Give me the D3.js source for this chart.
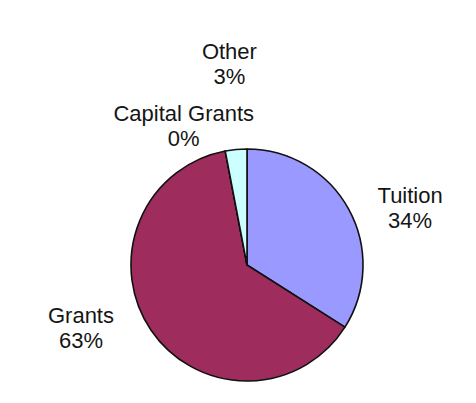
<!DOCTYPE html>
<html>
<head>
<meta charset="utf-8">
<script src="https://cdn.jsdelivr.net/npm/d3@7"></script>
<style>
  html, body { margin: 0; padding: 0; background: #fff; }
  svg { display: block; }
</style>
</head>
<body>
<div id="chart"></div>
<script>
// data
const categories = ['Tuition', 'Grants', 'Capital Grants', 'Other']
const shares = [34, 63, 0, 3]
const colors = ['#9999FF', '#9E2D5D', '#FFFFCC', '#CCFFFF']

const width = 476
const height = 403
const cx = 247
const cy = 265
const radius = 116

const data = categories.map((name, i) => ({ name, value: shares[i] }))

const svg = d3.select('#chart')
  .append('svg')
  .attr('width', width)
  .attr('height', height)

const g = svg.append('g')
  .attr('transform', `translate(${cx},${cy})`)

const pie = d3.pie()
  .sort(null)
  .value(d => d.value)

const arc = d3.arc()
  .innerRadius(0)
  .outerRadius(radius)

const color = d3.scaleOrdinal()
  .domain(categories)
  .range(colors)

const arcs = pie(data)

g.selectAll('path')
  .data(arcs)
  .enter().append('path')
    .attr('d', arc)
    .attr('fill', d => color(d.data.name))
    .attr('stroke', '#111')
    .attr('stroke-width', 1.6)
    .attr('stroke-linejoin', 'round')

// label placement (angle in degrees clockwise from 12 o'clock, distance as multiple of radius)
const labelPlace = {
  'Tuition': [70.7, 1.49],
  'Grants': [249.3, 1.53],
  'Capital Grants': [335.6, 1.32],
  'Other': [355, 1.74]
}

const total = d3.sum(shares)
const pct = d3.format('.0%')

const labels = g.selectAll('text')
  .data(arcs)
  .enter().append('text')
    .attr('transform', d => {
      const [deg, k] = labelPlace[d.data.name]
      const [x, y] = d3.pointRadial(deg * Math.PI / 180, radius * k)
      return `translate(${x},${y})`
    })
    .attr('text-anchor', 'middle')
    .style('font-family', '"Liberation Sans", Arial, sans-serif')
    .style('font-size', '22px')
    .style('fill', '#151515')

labels.append('tspan')
  .attr('x', 0)
  .attr('y', -4.5)
  .text(d => d.data.name)

labels.append('tspan')
  .attr('x', 0)
  .attr('y', 20.5)
  .text(d => pct(d.data.value / total))
</script>
</body>
</html>
